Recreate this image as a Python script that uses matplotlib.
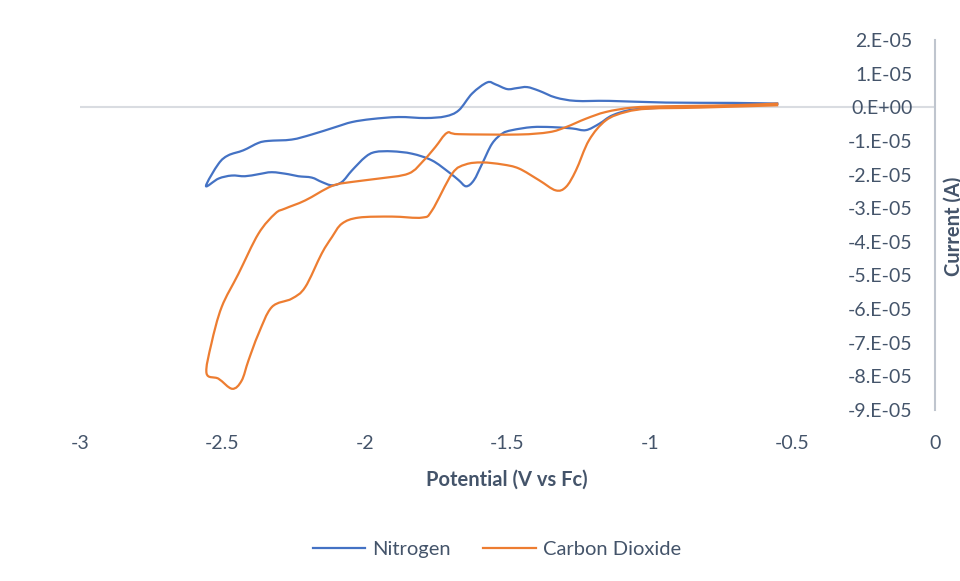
import matplotlib
matplotlib.use("Agg")
import matplotlib.pyplot as plt
from matplotlib.lines import Line2D
from matplotlib.path import Path
from matplotlib.patches import PathPatch

plt.rcParams['font.family'] = ['Lato', 'DejaVu Sans']

# Nitrogen CV (potential V vs Fc, current in 1e-5 A)
n2_potential = [-0.55, -0.711, -0.944, -1.061, -1.132, -1.178, -1.225, -1.273, -1.344, -1.414,
                -1.484, -1.518, -1.554, -1.589, -1.618, -1.645, -1.671, -1.706, -1.765, -1.835,
                -1.905, -1.964, -1.999, -2.046, -2.081, -2.116, -2.152, -2.187, -2.234, -2.269,
                -2.327, -2.374, -2.421, -2.468, -2.514, -2.558,
                -2.514, -2.480, -2.427, -2.374, -2.339, -2.257, -2.187, -2.104, -2.046, -1.976,
                -1.882, -1.788, -1.718, -1.671, -1.624, -1.571, -1.542, -1.501, -1.467, -1.431,
                -1.389, -1.331, -1.260, -1.143, -0.944, -0.709, -0.55]
n2_current = [0.10, 0.05, -0.01, -0.07, -0.24, -0.49, -0.68, -0.63, -0.59, -0.59,
              -0.68, -0.78, -1.08, -1.68, -2.17, -2.35, -2.17, -1.93, -1.58, -1.38,
              -1.31, -1.33, -1.48, -1.88, -2.22, -2.32, -2.22, -2.09, -2.05, -1.99,
              -1.93, -1.99, -2.05, -2.03, -2.12, -2.34,
              -1.68, -1.43, -1.28, -1.06, -1.00, -0.96, -0.81, -0.59, -0.44, -0.35,
              -0.29, -0.32, -0.27, -0.09, 0.41, 0.74, 0.68, 0.54, 0.57, 0.60,
              0.49, 0.29, 0.19, 0.19, 0.14, 0.13, 0.11]

# Carbon dioxide CV
co2_potential = [-0.55, -0.827, -1.002, -1.084, -1.155, -1.214, -1.260, -1.295, -1.331, -1.389,
                 -1.460, -1.518, -1.589, -1.647, -1.694, -1.765, -1.800, -1.905, -2.022, -2.081,
                 -2.116, -2.152, -2.210, -2.257, -2.327, -2.374, -2.409, -2.433, -2.466, -2.514,
                 -2.556,
                 -2.539, -2.503, -2.444, -2.374, -2.315, -2.280, -2.210, -2.116, -2.046, -1.952,
                 -1.847, -1.794, -1.753, -1.712, -1.671, -1.462, -1.354, -1.295, -1.225, -1.155,
                 -1.062, -0.944, -0.711, -0.55]
co2_current = [0.06, -0.01, -0.04, -0.14, -0.39, -0.98, -1.88, -2.37, -2.47, -2.17,
               -1.82, -1.70, -1.64, -1.70, -1.97, -3.07, -3.28, -3.25, -3.28, -3.46,
               -3.86, -4.35, -5.35, -5.69, -5.94, -6.74, -7.53, -8.13, -8.37, -8.07,
               -7.91,
               -7.03, -5.94, -4.95, -3.76, -3.16, -3.01, -2.77, -2.34, -2.22, -2.12,
               -1.97, -1.58, -1.18, -0.76, -0.80, -0.81, -0.74, -0.59, -0.34, -0.14,
               -0.01, 0.03, 0.06, 0.11]

x_ticks = [-3, -2.5, -2, -1.5, -1, -0.5, 0]
x_tick_labels = ['-3', '-2.5', '-2', '-1.5', '-1', '-0.5', '0']
y_ticks = [2e-5, 1e-5, 0, -1e-5, -2e-5, -3e-5, -4e-5, -5e-5, -6e-5, -7e-5, -8e-5, -9e-5]
y_tick_labels = ['2.E-05', '1.E-05', '0.E+00', '-1.E-05', '-2.E-05', '-3.E-05', '-4.E-05',
                 '-5.E-05', '-6.E-05', '-7.E-05', '-8.E-05', '-9.E-05']

BLUE = '#4472C4'
ORANGE = '#ED7D31'
TXT = '#44546A'
FS = 14


def smooth_path(xs, ys, scale=1e-5):
    """Excel-style smoothed line: cubic Bezier through every data point."""
    pts = [(x, y * scale) for x, y in zip(xs, ys)]
    n = len(pts)
    verts = [pts[0]]
    codes = [Path.MOVETO]
    for i in range(n - 1):
        p0 = pts[i - 1] if i > 0 else pts[i]
        p1 = pts[i]
        p2 = pts[i + 1]
        p3 = pts[i + 2] if i + 2 < n else pts[i + 1]
        c1 = (p1[0] + (p2[0] - p0[0]) / 6, p1[1] + (p2[1] - p0[1]) / 6)
        c2 = (p2[0] - (p3[0] - p1[0]) / 6, p2[1] - (p3[1] - p1[1]) / 6)
        verts += [c1, c2, p2]
        codes += [Path.CURVE4] * 3
    return Path(verts, codes)


fig = plt.figure(figsize=(9.6, 5.81), dpi=100)
ax = fig.add_axes([80/960, 171/581, 855/960, 370/581])

ax.axhline(0, color='#D9DCE1', lw=1.5, zorder=1)
ax.add_patch(PathPatch(smooth_path(n2_potential, n2_current), facecolor='none',
                       edgecolor=BLUE, lw=1.6, zorder=3, joinstyle='round'))
ax.add_patch(PathPatch(smooth_path(co2_potential, co2_current), facecolor='none',
                       edgecolor=ORANGE, lw=1.6, zorder=3, joinstyle='round'))

ax.set_xlim(-3, 0)
ax.set_ylim(-9e-5, 2e-5)

for s in ['top', 'right', 'bottom']:
    ax.spines[s].set_visible(False)
ax.spines['left'].set_position(('data', 0))
ax.spines['left'].set_color('#BFC5CE')
ax.spines['left'].set_linewidth(1.5)

ax.set_xticks(x_ticks)
ax.set_xticklabels(x_tick_labels)
ax.set_yticks(y_ticks)
ax.set_yticklabels(y_tick_labels)
ax.tick_params(axis='x', length=0, pad=18, labelsize=FS, labelcolor=TXT)
ax.tick_params(axis='y', length=0, pad=16, labelsize=FS, labelcolor=TXT)

fig.text(507/960, 1 - 480/581, 'Potential (V vs Fc)', ha='center', va='center',
         fontsize=FS + 0.5, fontweight='bold', color=TXT)
fig.text(944/960, 1 - 226/581, 'Current (A)', ha='left', va='center', rotation=90,
         fontsize=FS + 0.5, fontweight='bold', color=TXT)

handles = [Line2D([], [], color=BLUE, lw=1.6), Line2D([], [], color=ORANGE, lw=1.6)]
fig.legend(handles, ['Nitrogen', 'Carbon Dioxide'], loc='center', ncol=2,
           bbox_to_anchor=(497/960, 1 - 549/581), frameon=False, fontsize=FS + 0.5,
           labelcolor=TXT, handlelength=2.6, handletextpad=0.35, columnspacing=1.6)

fig.savefig('out.png', dpi=100)
